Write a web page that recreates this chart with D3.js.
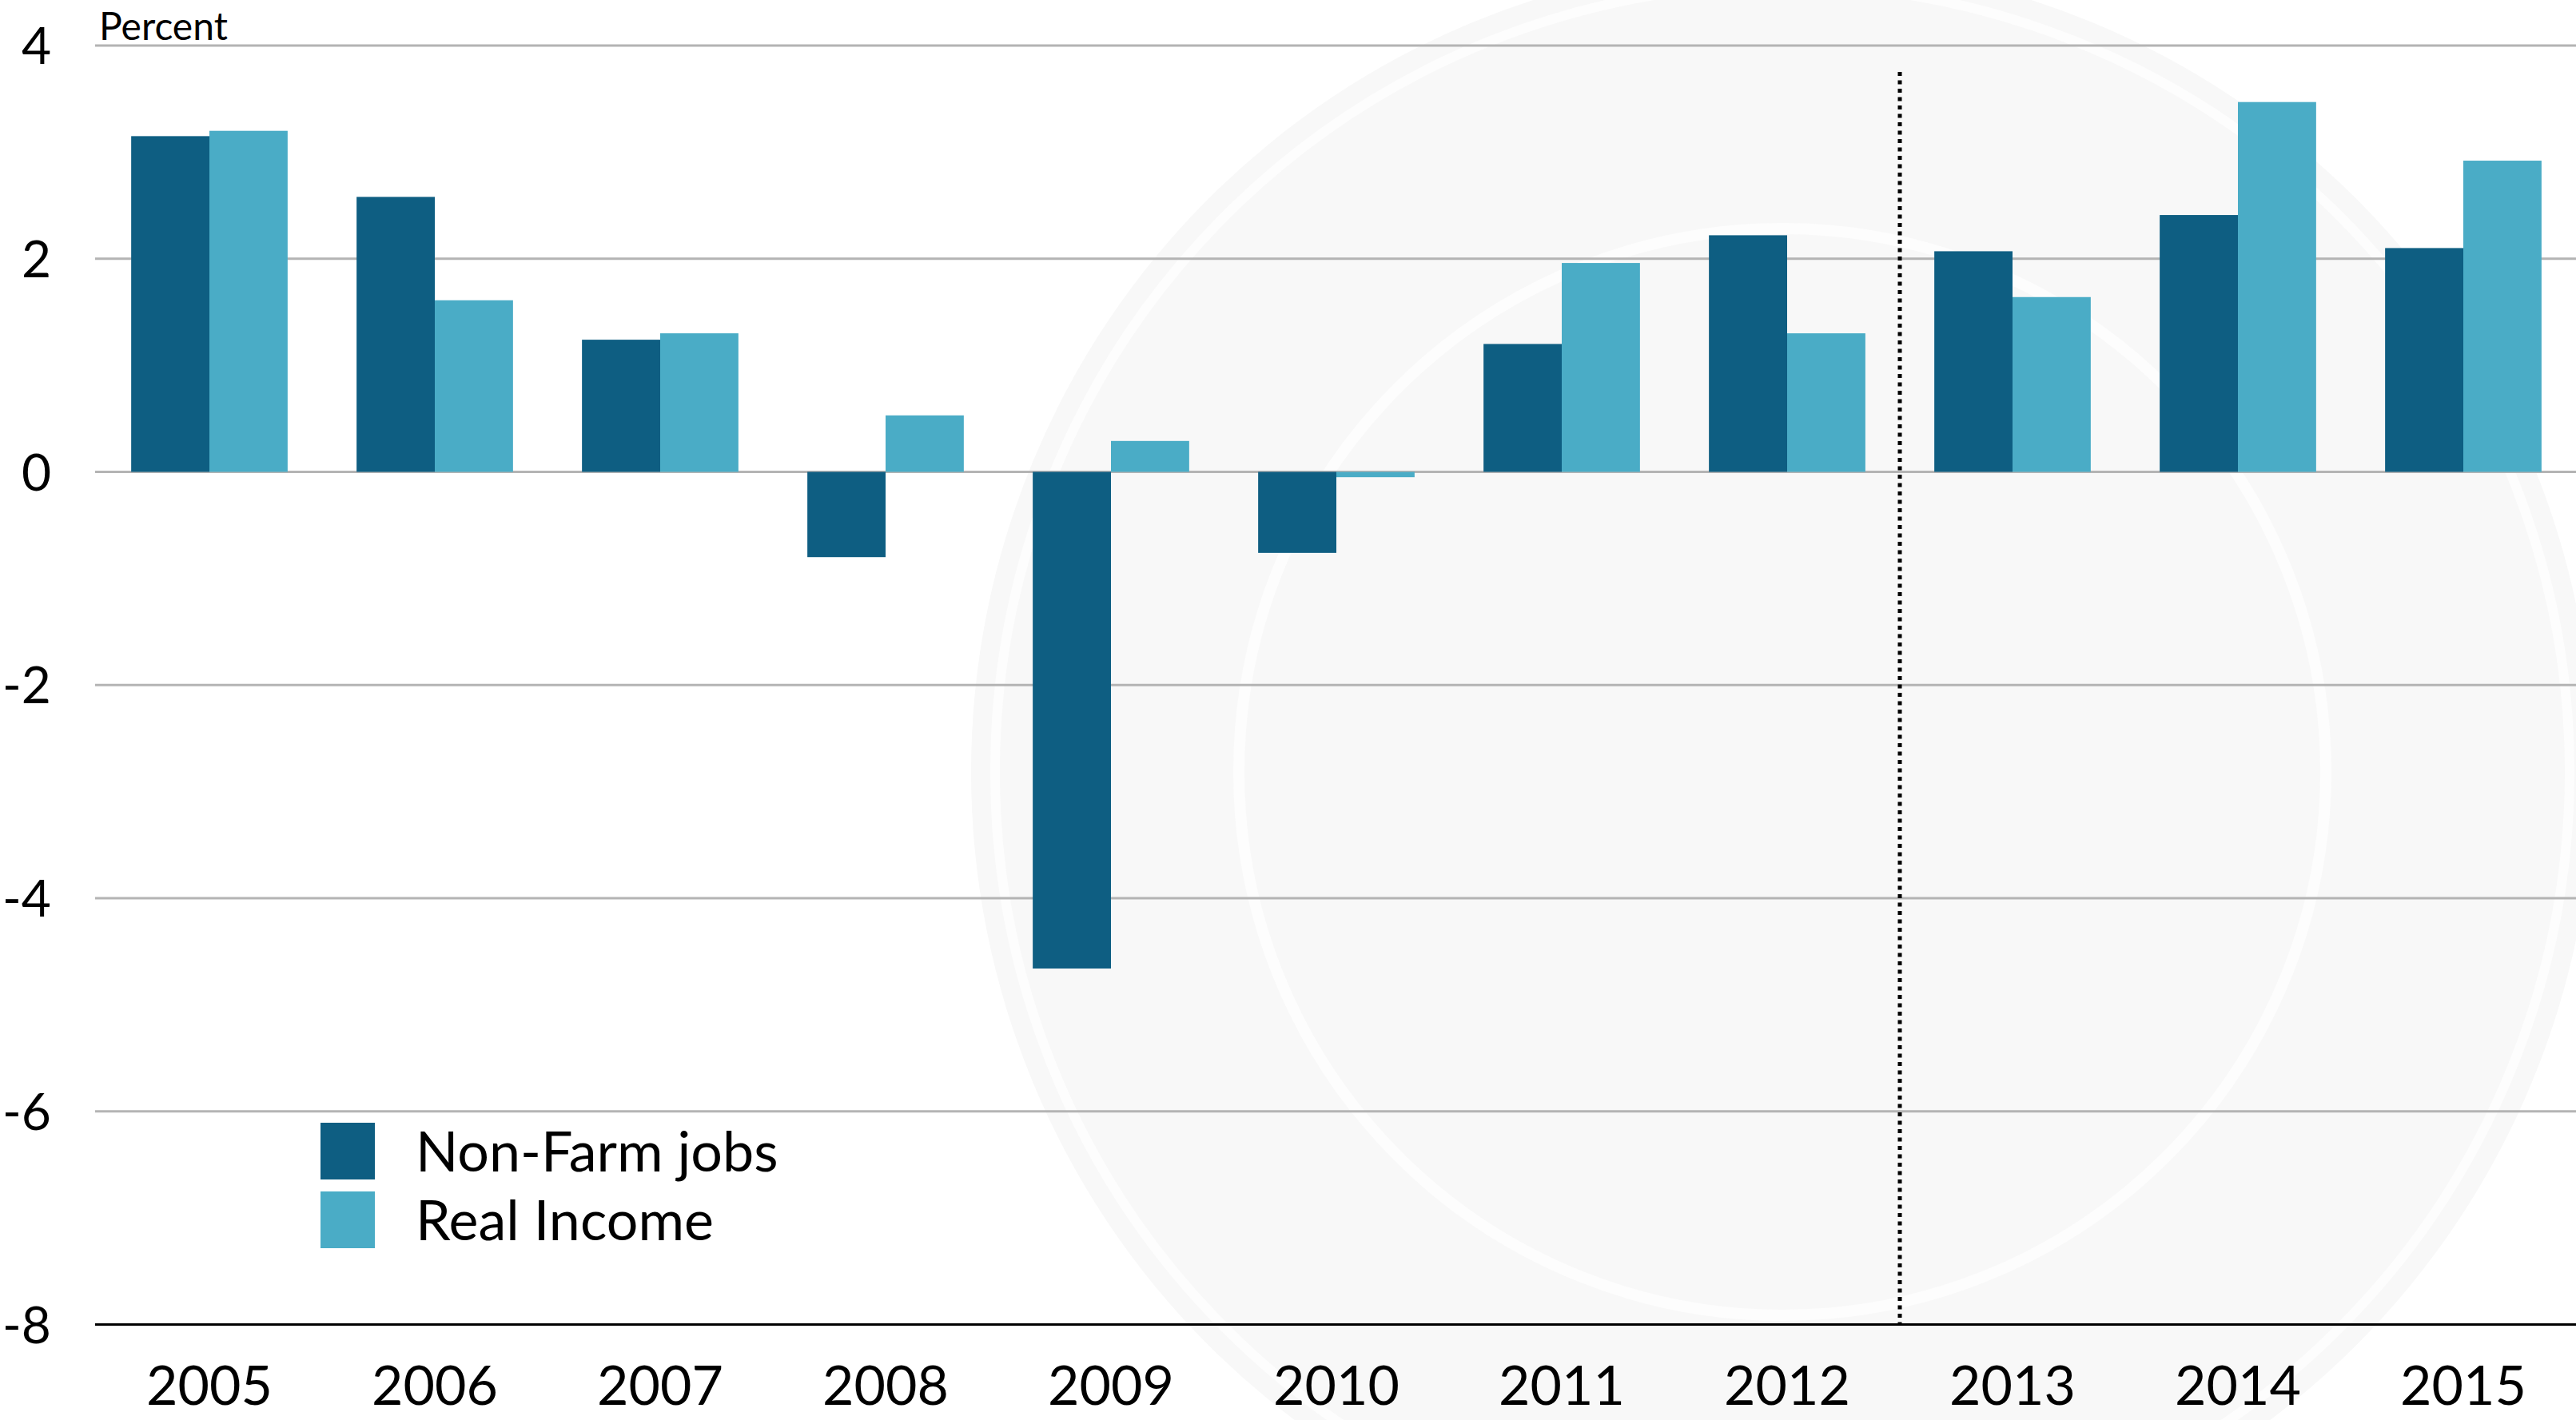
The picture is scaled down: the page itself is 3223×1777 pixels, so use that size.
<!DOCTYPE html>
<html>
<head>
<meta charset="utf-8">
<script src="https://cdn.jsdelivr.net/npm/d3@7"></script>
<style>
  html, body { margin: 0; padding: 0; background: #fff; }
  svg { display: block; font-family: "Lato", "Open Sans", sans-serif; }
</style>
</head>
<body>
<div id="chart"></div>
<script>
// Data
const years = ["2005", "2006", "2007", "2008", "2009", "2010", "2011", "2012", "2013", "2014", "2015"];
const nonFarmJobs = [3.15, 2.58, 1.24, -0.80, -4.66, -0.76, 1.20, 2.22, 2.07, 2.41, 2.10];
const realIncome = [3.20, 1.61, 1.30, 0.53, 0.29, -0.05, 1.96, 1.30, 1.64, 3.47, 2.92];
const seriesNames = ["Non-Farm jobs", "Real Income"];
const yTicks = [4, 2, 0, -2, -4, -6, -8];
const forecastStart = "2013";

const colors = ["#0e5e82", "#4aacc6"];

const width = 3223, height = 1777;
const margin = {top: 57, right: 0, bottom: 119, left: 121};

const svg = d3.select("#chart")
    .append("svg")
    .attr("width", width)
    .attr("height", height);

// Faint seal watermark in the background
const wm = svg.append("g").attr("class", "watermark");
wm.append("circle")
    .attr("cx", 2230).attr("cy", 966).attr("r", 1015)
    .attr("fill", "#f8f8f8");
wm.append("circle")
    .attr("cx", 2230).attr("cy", 966).attr("r", 985)
    .attr("fill", "none").attr("stroke", "#fdfdfd").attr("stroke-width", 12);
wm.append("circle")
    .attr("cx", 2230).attr("cy", 966).attr("r", 680)
    .attr("fill", "none").attr("stroke", "#fdfdfd").attr("stroke-width", 14);

const x = d3.scaleBand()
    .domain(years)
    .range([margin.left, width - margin.right])
    .paddingInner(0.306)
    .paddingOuter(0.153);

const xSub = d3.scaleBand()
    .domain(seriesNames)
    .range([0, x.bandwidth()]);

const y = d3.scaleLinear()
    .domain([-8, 4])
    .range([height - margin.bottom - 0.5, margin.top]);

// Gridlines
svg.append("g")
    .selectAll("line")
    .data(yTicks.filter(d => d !== -8))
    .join("line")
    .attr("x1", margin.left - 2)
    .attr("x2", width)
    .attr("y1", d => y(d))
    .attr("y2", d => y(d))
    .attr("stroke", "#b4b4b4")
    .attr("stroke-width", 3);

// Bars
const rows = years.map((yr, i) => ({year: yr, values: [nonFarmJobs[i], realIncome[i]]}));

svg.append("g")
    .selectAll("g")
    .data(rows)
    .join("g")
    .attr("transform", d => `translate(${x(d.year)},0)`)
    .selectAll("rect")
    .data(d => d.values.map((v, k) => ({name: seriesNames[k], value: v, k})))
    .join("rect")
    .attr("x", d => xSub(d.name))
    .attr("width", xSub.bandwidth())
    .attr("y", d => y(Math.max(0, d.value)))
    .attr("height", d => Math.abs(y(d.value) - y(0)))
    .attr("fill", d => colors[d.k]);

// Bottom axis line
svg.append("line")
    .attr("x1", margin.left - 2)
    .attr("x2", width)
    .attr("y1", y(-8))
    .attr("y2", y(-8))
    .attr("stroke", "#000")
    .attr("stroke-width", 3);

// Dotted forecast divider
const divX = x(forecastStart) - x.step() * x.paddingInner() / 2;
svg.append("line")
    .attr("x1", divX).attr("x2", divX)
    .attr("y1", 90).attr("y2", y(-8))
    .attr("stroke", "#000")
    .attr("stroke-width", 5)
    .attr("stroke-dasharray", "5,5.5");

// Y tick labels
svg.append("g")
    .selectAll("text")
    .data(yTicks)
    .join("text")
    .attr("x", 64)
    .attr("y", d => y(d))
    .attr("dy", "0.36em")
    .attr("text-anchor", "end")
    .attr("font-size", 64)
    .attr("fill", "#000")
    .text(d => d);

// X labels
svg.append("g")
    .selectAll("text")
    .data(years)
    .join("text")
    .attr("x", d => x(d) + x.bandwidth() / 2)
    .attr("y", 1758)
    .attr("text-anchor", "middle")
    .attr("font-size", 68)
    .attr("fill", "#000")
    .text(d => d);

// Unit label
svg.append("text")
    .attr("x", 124)
    .attr("y", 50)
    .attr("font-size", 48)
    .attr("fill", "#000")
    .text("Percent");

// Legend
const legend = svg.append("g")
    .selectAll("g")
    .data(seriesNames)
    .join("g")
    .attr("transform", (d, i) => `translate(401,${1405 + i * 86})`);

legend.append("rect")
    .attr("width", 68)
    .attr("height", 71)
    .attr("fill", (d, i) => colors[i]);

legend.append("text")
    .attr("x", 119)
    .attr("y", 61)
    .attr("font-size", 70)
    .attr("fill", "#000")
    .text(d => d);
</script>
</body>
</html>
